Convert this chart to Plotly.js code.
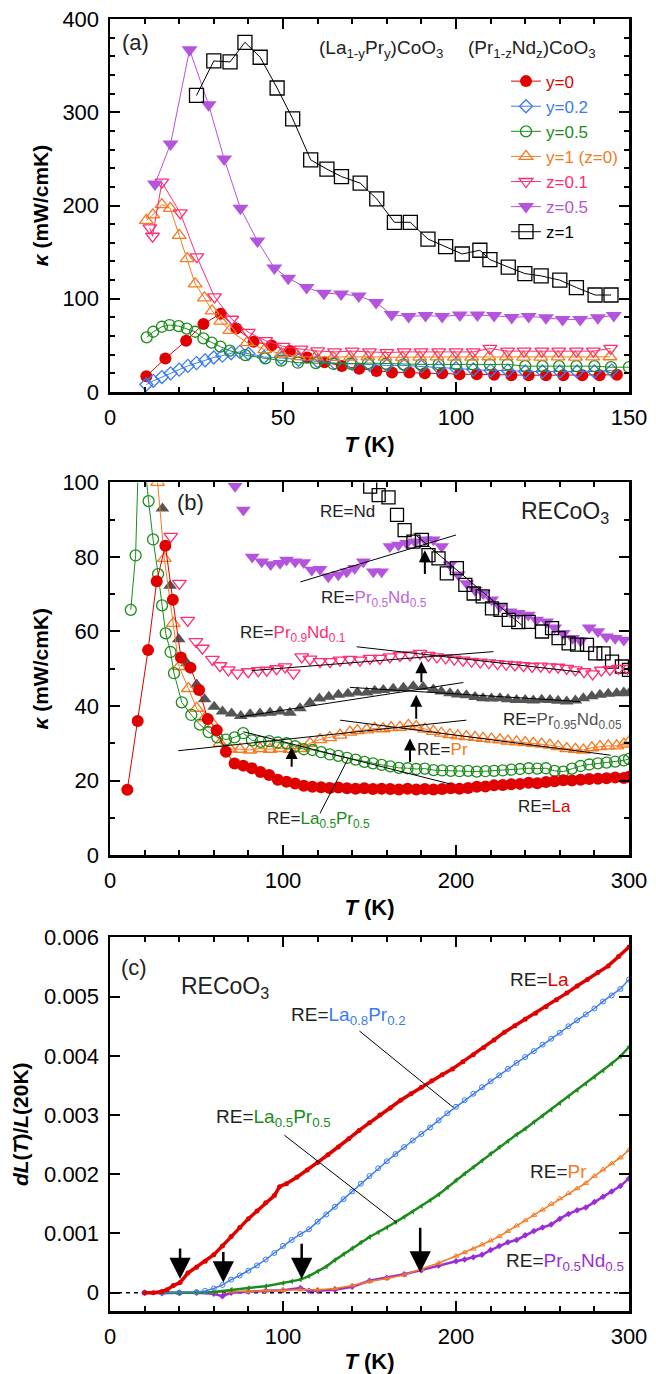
<!DOCTYPE html>
<html><head><meta charset="utf-8">
<script src="https://cdn.plot.ly/plotly-3.0.1.min.js"></script>
<style>html,body{margin:0;padding:0;background:#fff}#chart{width:656px;height:1374px}</style>
</head><body><div id="chart"></div>
<script>
// ---------- Panel (a): kappa vs T, (La1-yPry)CoO3 and (Pr1-zNdz)CoO3 ----------
const aT_y0  = [10.5,16,22,27,32,36.5,41.5,46.7,52,57,62,67,72,77,81.5,86.5,91,96,101,106,111,116,121,126,131,136.5,141.5,146.5];
const aK_y0  = [17,36,55,73,84,68,54,50,44,37,32,28,25,22.5,21,21,20,20,19,19,18.5,18,18,18,18,18,18,18.5];
const aT_y02 = [10.5,12.5,15,17.5,20,22.5,25,27.5,30,32.5,35,37.5,40,44.5,49.5,54.5,60,65,70,75,80,85,90,95,100,105,110,115,120,125,130,135,140,145];
const aK_y02 = [8,12,16,20,24,28,31,34,37,39,41.5,43,41,37.5,36.5,34.5,33,31,30.3,29.2,28.5,28.5,27.4,26.3,25.5,24.1,23,23,22,22,22,22,22,23];
const aT_y05 = [10.6,12.5,15,17.2,19.8,22.2,24.6,27,29.4,31.9,34.6,39.1,44.9,49.5,54.3,59.5,64.5,69.5,74.6,79.7,84.8,89.9,95,100,104.7,109.8,114.9,120,125,129.8,134.8,140,144.8,150];
const aK_y05 = [58.6,64.6,70,71.8,70.7,68,64.6,57.5,52.9,48.6,44.3,39.6,36,33.6,31.4,31,30.3,30.3,31,30.3,29.6,29.6,29.6,29.6,29.6,29.6,29.6,27.7,27.7,27.7,27.7,27.7,26.6,26.6];
const aT_y1  = [10.5,12.4,15,17.4,20,22.3,24.6,27.3,29.5,32,34.6,39.6,44.7,49.5,54.5,59.5,64.5,69.5,74.5,79.5,84.5,89.5,94.5,99.5,104.5,109.5,114.5,119.5,124.5,129.5,134.5,139.5,144.5];
const aK_y1  = [184,190,201,197,168,143,116,101,87,76,66,53,45.5,41,38,37.6,37.2,37.5,37.8,37.4,37.1,37.5,37.6,37.3,37.5,37.8,37.6,37.4,37.5,37.7,37.5,37.6,37.8];
const aT_z01 = [11.5,12.3,15,20.3,25.1,30.2,35.2,40,45,50,55.2,60,64.9,70,75,80,85,89.9,95,100,105,109.8,114.9,119.7,124.8,129.7,134.8,139.7,144.7];
const aK_z01 = [176,167,225,192,145,102,78,64,55,49,46,44,43,43.8,43,42.3,43,43,43,43,43,46.7,43.8,43.8,43.8,43.8,43.8,43.8,46.7];
const aT_z05 = [13,17.5,23,28.5,33,37.7,42.6,47.5,51.5,56.8,61.8,66.8,71.9,76.9,81.4,86.3,91.2,96,101.1,106.2,111,116.1,121,126,130.8,135.9,141,145.6];
const aK_z05 = [223,266,367,308,250,197,162,133,122,112,106,105,103,96,83,81,82,81,82.5,82.5,82,80,81,79.6,77.7,77.7,79.6,82];
const aT_z1  = [25,30,34.7,39,43.4,48.3,52.8,58,62.7,66.9,72.3,77.1,82.2,86.8,91.9,97,101.8,106.9,109.8,115.1,119.9,124.6,130,134.8,140.2,144.8];
const aK_z1  = [318,355,354,375,359,326,293,249,239,231,224,207,182,182,164,156,148,152,142,134,127,124.5,120,112,104,104];

// ---------- Panel (b): kappa vs T, RECoO3 ----------
const bT_La = [10,16,22,27,32,36.3,41,46.5,51.5,56.5,61.7,67,72,77,82,87,92,97,102,107,112,117,122,127,132,137,142,147,152,157,162,167,172,177,182,187,192,197,202,207,212,217,222,227,232,237,242,247,252,257,262,267,272,277,282,287,292,297,300];
const bK_La = [17.5,36,55,73.5,83,68.5,53,50.3,44.3,36.5,33.5,27.7,24.6,24,23.3,22.3,21.5,20.2,19.7,19.2,18.6,18.3,18.2,18.0,18.1,17.9,17.8,17.9,17.7,17.8,17.7,17.6,17.8,17.6,17.7,17.6,17.7,17.9,17.8,18.0,18.3,18.4,18.7,18.8,19.0,19.1,19.4,19.3,19.6,19.8,20.1,20.0,20.2,20.4,20.5,20.6,20.8,20.7,21.0];
const bT_LaPr = [12,14.8,17,19.5,22.3,24.9,27.8,30.1,32.2,35,37,41.5,47,52,57,62,67,72,77,82,87,92,97,102,107,112,117,122,127,132,137,142,147,152,157,162,167,172,177,182,187,192,197,202,207,212,217,222,227,232,237,242,247,252,257,262,267,272,277,282,287,292,297,300];
const bK_LaPr = [65.8,80.4,116,108,95,84.7,75.4,67,59.5,54.5,48.8,41,37.6,35,33,31.6,31,31.6,32.7,30.8,30.4,30.6,30.2,30,29.2,28.4,28.2,27.6,27,26.6,26.1,25.6,25,24.6,24.2,23.8,23.4,23.3,23.1,23.2,22.8,22.7,22.6,22.5,22.6,22.4,22.5,22.6,22.7,22.9,23.1,23.3,23.2,23.3,22.6,22.4,23.2,23.9,24.3,24.6,24.8,25.1,25.4,25.8];
const bT_Pr = [25,27.5,31.4,36.6,39.9,45.3,50.1,54.9,59.7,63.6,69.4,75.1,80.9,86.7,92.5,98.3,104,109.8,115.6,121.4,127,133,138.7,143,148.4,153,157.8,162.5,167.6,172.5,177,182,186.9,191.5,196.5,201,206,211,215.6,220.5,225.4,230,235,240,244.7,249.5,254.3,259,264,269,273.6,278.5,283.2,288,292.9,297,300];
const bK_Pr = [116,100,79.6,62.2,50.6,44.7,39.4,36.8,35,30,28.5,28.4,28.2,28.6,28.4,28.6,28.4,28.6,30,31,31.5,32.2,33,33.4,33.6,34,33.9,34.2,34.3,34.8,34.5,33.8,33.2,32.7,32.3,32,31.8,31.6,31.3,31.1,30.9,30.6,30.4,30.2,30,29.8,29.5,29.1,28.6,28.4,28.2,28.8,29.1,29.3,29.3,29.8,30.4];
const bT_PrNd01 = [35.1,40.1,44.9,49.7,53.4,59.2,63.6,68.4,73.6,79.9,85.7,90.6,96.3,101.2,106,110.8,115.6,121.4,127.2,132.9,138.7,144.5,150.3,156,161.8,167.6,173.4,179.2,184,189,194,199,204,209,214,219,224,229,234,239,244,249,254,259,264,269,274,279,284,289,294,299];
const bK_PrNd01 = [85.5,72.9,63,57.3,55.5,52.5,50.8,49.7,48.8,49.2,49.5,49.6,50,50.5,48.8,53.2,52.6,51.9,51.9,52.3,52.5,52.3,52.8,52.8,53.2,53.5,53.7,54.1,53.6,53.2,52.9,52.6,52.3,52,51.8,51.6,51.4,51.2,51,50.8,50.6,50.7,50.5,50.4,50.1,49.7,49.2,48.6,49.6,49.8,50.1,50.1];
const bT_PrNd005 = [30.3,34.7,39.7,44.5,50.1,54.7,60.2,65,70.3,75.6,81,86.7,92.5,98.3,104,109.8,115.6,121,126.5,132,137.5,143,148.4,153,158,163.7,169.6,175.3,181,186.9,191.5,196.5,201,206,211,215.6,220.5,225.4,230,235,240,244.7,249.5,254.3,259,264,269,273.6,278.5,283.2,288,292.9,297,300];
const bK_PrNd005 = [93,72.3,57.9,51.5,45.8,41.8,39.8,38.5,38,37.3,37.8,38,38.2,38.5,38.2,39.4,40.9,42,42.5,43,43.3,43.6,43.6,44.1,44.3,44.6,44.9,45.3,45.1,44.4,43.9,43.4,43.1,42.9,42.4,42.1,42,42.1,41.8,41.6,41.6,41.5,41.7,41.6,41.4,41.2,41.5,42.1,42.6,43,43.3,43.4,43.6,43.4];
const bT_PrNd05 = [72.3,77.1,82.2,87.7,92.9,98.3,102,107,112,116.6,121.4,126.2,132,136.8,141.4,146.4,152.2,157,161.8,166.7,171.5,176.3,182,186.9,191.7,196.5,201.3,206.2,211,215.8,220.6,225.5,231.2,236,241.8,246.6,252.4,257,262,267.4,272,277,282,287,292,297];
const bK_PrNd05 = [99,92.6,80,78.7,78,78.3,79.2,78.7,78.5,76.5,76.7,74.7,75.2,76,77,78.7,76,76,82.8,83.2,83.7,84.1,84.6,84.6,82.8,77.9,75.2,72.9,71.1,70.2,68.5,66.7,65.3,64.9,64.4,63.1,62.6,61,59.5,58.2,57.5,61,60,58.6,58.2,57.7];
const bT_Nd = [150.4,155.3,161,165.9,170.3,175.4,180.3,184.1,189.9,194.7,200.5,205.4,210.2,215.4,220.8,225.7,230.5,236,242,249.7,255.5,259.3,265.1,270,275.7,280.5,285.3,290.2,295.9,300];
const bK_Nd = [98.9,96.6,96,91.3,87.2,84.1,84.6,80.5,79.6,75.6,77,72.5,70.2,69.4,66.2,65.8,63.1,62.5,62.6,60,60.9,58.2,56.8,56.5,56.4,54.1,54.1,51.9,50.6,49.7];

// ---------- Panel (c): dL(T)/L(20K) vs T (values in units of 0.001) ----------
const cT_La = [20,25,30,33,36.6,40.5,45,50,55,60,65,70,75,80,85,90,95,98,102,108,114,120,126,132,138,144,150,156,162,168,174,180,186,192,198,204,210,216,222,228,234,240,246,252,258,264,270,276,282,288,294,300];
const cD_La = [0,0,0.02,0.05,0.12,0.17,0.33,0.43,0.53,0.64,0.79,0.95,1.1,1.25,1.38,1.52,1.64,1.79,1.84,1.95,2.07,2.2,2.33,2.46,2.6,2.74,2.87,3.0,3.12,3.25,3.36,3.47,3.58,3.68,3.78,3.9,4.02,4.14,4.27,4.4,4.51,4.62,4.72,4.83,4.95,5.06,5.18,5.29,5.41,5.52,5.68,5.84];
const cT_LaPr02 = [20,30,40,50,55,60,65,70,75,80,85,90,95,100,105,110,115,120,125,130,135,140,145,150,155,160,165,170,175,180,185,190,195,200,205,210,215,220,225,230,235,240,245,250,255,260,265,270,275,280,285,290,295,300];
const cD_LaPr02 = [0,0,0,0.01,0.03,0.07,0.13,0.22,0.29,0.37,0.46,0.56,0.67,0.79,0.89,0.99,1.07,1.2,1.32,1.45,1.58,1.71,1.84,1.97,2.1,2.22,2.34,2.46,2.57,2.68,2.79,2.91,3.03,3.14,3.25,3.36,3.47,3.57,3.67,3.78,3.88,3.98,4.08,4.19,4.29,4.39,4.5,4.6,4.7,4.8,4.92,5.02,5.13,5.29];
const cT_LaPr05 = [20,30,40,50,60,70,80,90,100,105,110,115,120,125,130,135,140,145,150,155,160,165,170,175,180,185,190,195,200,205,210,215,220,225,230,235,240,245,250,255,260,265,270,275,280,285,290,295,300];
const cD_LaPr05 = [0,0,-0.01,0,0.01,0.05,0.08,0.11,0.16,0.19,0.22,0.28,0.36,0.44,0.55,0.65,0.75,0.85,0.94,1.02,1.1,1.19,1.28,1.37,1.46,1.56,1.66,1.78,1.9,2.01,2.12,2.23,2.35,2.46,2.56,2.67,2.77,2.88,2.99,3.09,3.2,3.31,3.42,3.53,3.64,3.75,3.87,3.99,4.15];
const cT_Pr = [20,30,40,50,60,70,80,90,100,110,120,130,140,150,160,170,180,190,200,205,210,215,220,225,230,235,240,245,250,255,260,265,270,275,280,285,290,295,300];
const cD_Pr = [0,0,-0.01,0,0.01,0.02,0.02,0.03,0.04,0.05,0.05,0.07,0.12,0.19,0.24,0.3,0.4,0.5,0.62,0.68,0.74,0.81,0.88,0.95,1.04,1.13,1.22,1.31,1.4,1.5,1.59,1.68,1.76,1.85,1.97,2.08,2.18,2.28,2.41];
const cT_PrNd = [20,30,40,50,60,65,70,80,90,100,110,115,120,130,140,150,160,170,180,190,200,205,210,215,220,225,230,235,240,245,250,255,260,265,270,275,280,285,290,295,300];
const cD_PrNd = [0,-0.01,0,0,-0.02,-0.06,0,0.02,0.03,0.04,0.08,0.03,0.03,0.05,0.1,0.2,0.25,0.31,0.38,0.46,0.53,0.56,0.6,0.64,0.72,0.79,0.85,0.89,0.97,1.04,1.1,1.15,1.25,1.33,1.39,1.44,1.53,1.62,1.71,1.8,1.93];
const cScale = 0.001;

const yTicksC = [0,0.001,0.002,0.003,0.004,0.005,0.006];
const yTickTextC = ['0','0.001','0.002','0.003','0.004','0.005','0.006'];

// ---------- styling ----------
const FONT = '"Liberation Sans", Arial, Helvetica, sans-serif';
const C = {red:'#e00000', blue:'#3a7bf0', green:'#1b8c1b', orange:'#f47a22', pink:'#ff2d70',
           purple:'#b453dc', gray:'#555555', black:'#000000', violet:'#9a2ed6', txt:'#222222'};
const sp = (c,t) => `<span style="color:${c}">${t}</span>`;

function trace(x, y, xa, ya, sym, color, size, o) {
  o = o || {};
  const open = sym.indexOf('open') >= 0;
  return {
    type:'scatter', x, y, xaxis:xa, yaxis:ya,
    mode: o.mode || 'lines+markers',
    name: o.name || '', showlegend: !!o.name,
    line: {color, width: o.lw || 1},
    marker: {symbol: sym, size, color: color,
             line: {color, width: open ? (o.mlw || 1.3) : 0}}
  };
}
const scaleC = arr => arr.map(v => v * cScale);

const data = [
  // panel (a)
  trace(aT_y0,  aK_y0,  'x','y','circle',            C.red,    12, {name: sp(C.red,'y=0')}),
  trace(aT_y02, aK_y02, 'x','y','diamond-open',      C.blue,   10, {name: sp(C.blue,'y=0.2')}),
  trace(aT_y05, aK_y05, 'x','y','circle-open',       C.green,  11, {name: sp(C.green,'y=0.5')}),
  trace(aT_y1,  aK_y1,  'x','y','triangle-up-open',  C.orange, 12, {name: sp(C.orange,'y=1 (z=0)')}),
  trace(aT_z01, aK_z01, 'x','y','triangle-down-open',C.pink,   12, {name: sp(C.pink,'z=0.1')}),
  trace(aT_z05, aK_z05, 'x','y','triangle-down',     C.purple, 14, {name: sp(C.purple,'z=0.5')}),
  trace(aT_z1,  aK_z1,  'x','y','square-open',       C.black,  14, {name: sp(C.black,'z=1')}),
  // panel (b)
  trace(bT_PrNd05,  bK_PrNd05,  'x2','y2','triangle-down',      C.purple, 13, {mode:'markers'}),
  trace(bT_Nd,      bK_Nd,      'x2','y2','square-open',        C.black,  13, {mode:'markers'}),
  trace(bT_PrNd01,  bK_PrNd01,  'x2','y2','triangle-down-open', C.pink,   12, {mode:'markers'}),
  trace(bT_PrNd005, bK_PrNd005, 'x2','y2','triangle-up',        C.gray,   12, {mode:'markers'}),
  trace(bT_Pr,      bK_Pr,      'x2','y2','triangle-up-open',   C.orange, 12),
  trace(bT_LaPr,    bK_LaPr,    'x2','y2','circle-open',        C.green,  11),
  trace(bT_La,      bK_La,      'x2','y2','circle',             C.red,    12),
  // panel (c)
  trace(cT_PrNd,   scaleC(cD_PrNd),   'x3','y3','diamond',          C.violet, 5, {lw:2.5}),
  trace(cT_Pr,     scaleC(cD_Pr),     'x3','y3','triangle-up-open', C.orange, 5, {lw:1.5, mlw:1}),
  trace(cT_LaPr05, scaleC(cD_LaPr05), 'x3','y3','triangle-left',    C.green,  5, {lw:2.5}),
  trace(cT_LaPr02, scaleC(cD_LaPr02), 'x3','y3','circle-open',      C.blue,   5, {lw:1.5, mlw:1}),
  trace(cT_La,     scaleC(cD_La),     'x3','y3','circle',           C.red,    5, {lw:3.5})
];

function minorTicks(d) { return {ticks:'inside', ticklen:5, tickwidth:2, tickcolor:'#000', dtick:d, showgrid:false}; }
function axis(extra) {
  return Object.assign({
    showline:true, linecolor:'#000', linewidth:2.5, mirror:'ticks',
    ticks:'inside', ticklen:10, tickwidth:2, tickcolor:'#000',
    showgrid:false, zeroline:false, ticklabelstandoff:4,
    tickfont:{family:FONT, size:22, color:'#000'}
  }, extra);
}
const xTitle = {text:'<b><i>T</i> (K)</b>', font:{family:FONT, size:22, color:'#000'}, standoff:8};
const kTitle = {text:'<b><i>κ</i> (mW/cmK)</b>', font:{family:FONT, size:21, color:'#000'}, standoff:8};

function lab(text, x, y, xr, yr, size, extra) {
  return Object.assign({text, x, y, xref:xr, yref:yr, showarrow:false,
    font:{family:FONT, size, color:C.txt}, xanchor:'center', yanchor:'middle'}, extra || {});
}
function arrow(x, yTail, yHead, xr, yr, big) {
  return {x, y:yHead, ax:x, ay:yTail, xref:xr, yref:yr, axref:xr, ayref:yr, text:'',
    showarrow:true, arrowhead:2, arrowsize: big ? 1.7 : 1.2, arrowwidth: big ? 2.5 : 2,
    arrowcolor:'#000', standoff:0, startstandoff:0};
}
function seg(x0, y0, x1, y1, xr, yr) {
  return {type:'line', x0, y0, x1, y1, xref:xr, yref:yr, line:{color:'#000', width:1}};
}

const layout = {
  width:656, height:1374, paper_bgcolor:'#fff', plot_bgcolor:'#fff',
  margin:{l:110, r:27, t:19, b:63}, font:{family:FONT, color:'#000'},
  showlegend:true,
  legend:{x:0.763, y:0.9655, xanchor:'left', yanchor:'top', bgcolor:'rgba(0,0,0,0)',
          font:{family:FONT, size:17, color:'#000'}, tracegroupgap:0, itemsizing:'trace'},
  xaxis: axis({domain:[0,1], anchor:'y', range:[0,150], dtick:50, tick0:0, minor:minorTicks(10), title:xTitle}),
  yaxis: axis({domain:[0.7113,1], anchor:'x', range:[0,400], dtick:100, tick0:0, minor:minorTicks(20), title:kTitle}),
  xaxis2: axis({domain:[0,1], anchor:'y2', range:[0,300], dtick:100, tick0:0, minor:minorTicks(20), title:xTitle}),
  yaxis2: axis({domain:[0.3529,0.6413], anchor:'x2', range:[0,100], dtick:20, tick0:0, minor:minorTicks(10), title:kTitle}),
  xaxis3: axis({domain:[0,1], anchor:'y3', range:[0,300], dtick:100, tick0:0, minor:minorTicks(20), title:xTitle}),
  yaxis3: axis({domain:[0,0.2891], anchor:'x3', range:[-0.00031,0.006], tickmode:'array', tickvals:yTicksC, ticktext:yTickTextC,
               title:{text:'<b><i>dL</i>(<i>T</i>)/<i>L</i>(20K)</b>', font:{family:FONT, size:21, color:'#000'}, standoff:10}}),
  shapes: [
    // panel (b) tangent lines
    seg(110,73.3,200,85.9,'x2','y2'),
    seg(175.4,86.4,238,61.7,'x2','y2'),
    seg(81.9,49.5,221.6,54.6,'x2','y2'),
    seg(142.6,55.9,272,49.1,'x2','y2'),
    seg(75.2,37.1,204.2,46.3,'x2','y2'),
    seg(138.7,45,271.7,41.2,'x2','y2'),
    seg(39.5,28,206,36.2,'x2','y2'),
    seg(133,36.2,289.4,26.8,'x2','y2'),
    seg(77.1,33.1,196.5,19.1,'x2','y2'),
    seg(121.4,11.2,137.8,26,'x2','y2'),
    // panel (c) zero line and leader lines
    {type:'line', xref:'x3', yref:'y3', x0:0, x1:300, y0:0, y1:0, layer:'below', line:{color:'#000', width:1.5, dash:'4px,4px'}},
    seg(144.2,0.00442,198.4,0.00313,'x3','y3'),
    seg(100.8,0.00266,165.9,0.00118,'x3','y3')
  ],
  annotations: [
    // panel (a)
    lab('(a)', 7.3, 375, 'x','y', 22),
    lab('(La<sub>1-y</sub>Pr<sub>y</sub>)CoO<sub>3</sub>', 78.3, 368, 'x','y', 19),
    lab('(Pr<sub>1-z</sub>Nd<sub>z</sub>)CoO<sub>3</sub>', 122, 368, 'x','y', 19),
    // panel (b)
    lab('(b)', 46.8, 94.5, 'x2','y2', 22),
    lab('RECoO<sub>3</sub>', 263, 92, 'x2','y2', 23),
    lab('RE=Nd', 137.5, 92.2, 'x2','y2', 17),
    lab('RE=' + sp('#bb66dd','Pr<sub>0.5</sub>Nd<sub>0.5</sub>'), 152.6, 68.8, 'x2','y2', 17),
    lab('RE=' + sp(C.pink,'Pr<sub>0.9</sub>Nd<sub>0.1</sub>'), 106, 59.3, 'x2','y2', 17),
    lab('RE=' + sp(C.gray,'Pr<sub>0.95</sub>Nd<sub>0.05</sub>'), 261.3, 36, 'x2','y2', 17),
    lab('RE=' + sp(C.orange,'Pr'), 192.2, 28.2, 'x2','y2', 17),
    lab('RE=' + sp(C.red,'La'), 251.4, 12.9, 'x2','y2', 17),
    lab('RE=' + sp(C.green,'La<sub>0.5</sub>Pr<sub>0.5</sub>'), 120.3, 9.4, 'x2','y2', 17),
    arrow(182, 75, 81.8, 'x2','y2'),
    arrow(180, 46, 52, 'x2','y2'),
    arrow(177, 36.2, 43, 'x2','y2'),
    arrow(173.4, 24.6, 31.3, 'x2','y2'),
    arrow(105, 23.3, 29, 'x2','y2'),
    // panel (c)
    lab('(c)', 13.6, 0.00549, 'x3','y3', 22),
    lab('RECoO<sub>3</sub>', 66.5, 0.00515, 'x3','y3', 23),
    lab('RE=' + sp(C.red,'La'), 248, 0.00529, 'x3','y3', 19),
    lab('RE=' + sp(C.blue,'La<sub>0.8</sub>Pr<sub>0.2</sub>'), 137.8, 0.00468, 'x3','y3', 19),
    lab('RE=' + sp(C.green,'La<sub>0.5</sub>Pr<sub>0.5</sub>'), 94.5, 0.00295, 'x3','y3', 19),
    lab('RE=' + sp(C.orange,'Pr'), 259, 0.00204, 'x3','y3', 19),
    lab('RE=' + sp(C.violet,'Pr<sub>0.5</sub>Nd<sub>0.5</sub>'), 263, 0.00052, 'x3','y3', 19),
    arrow(40.5, 0.00077, 0.00023, 'x3','y3', true),
    arrow(65.5, 0.00071, 0.00017, 'x3','y3', true),
    arrow(110.8, 0.00085, 0.00023, 'x3','y3', true),
    arrow(179.3, 0.00112, 0.00034, 'x3','y3', true)
  ]
};

Plotly.newPlot('chart', data, layout, {displayModeBar:false, staticPlot:true});
</script>
</body></html>
